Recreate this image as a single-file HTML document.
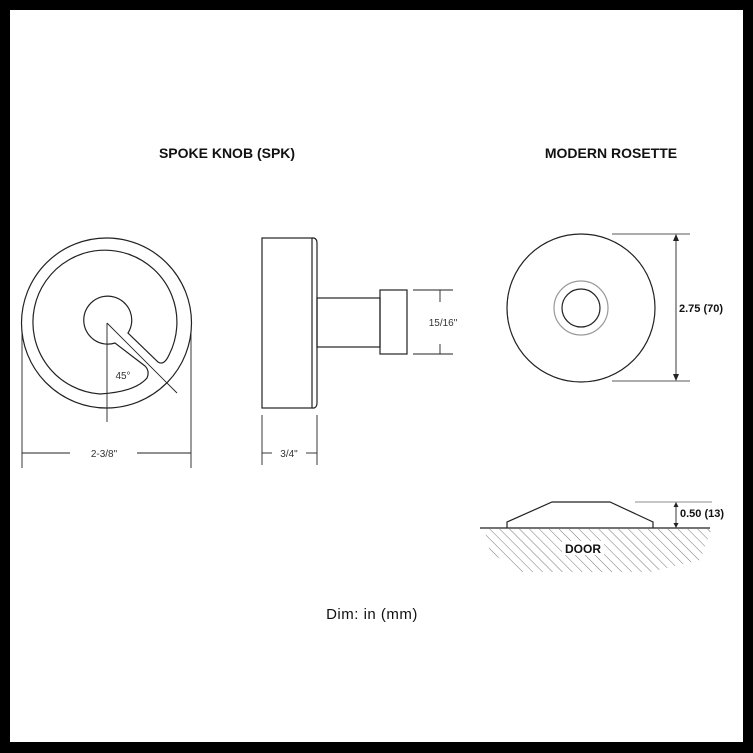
<!DOCTYPE html>
<html><head><style>
html,body{margin:0;padding:0;background:#000;}
svg{display:block;}
</style></head><body>
<svg width="753" height="753" viewBox="0 0 753 753" xmlns="http://www.w3.org/2000/svg">
<defs>
<pattern id="h" width="7" height="7" patternUnits="userSpaceOnUse" patternTransform="rotate(-45)">
<line x1="0" y1="0" x2="0" y2="7" stroke="#555" stroke-width="0.8"/>
</pattern>
<clipPath id="c"><path d="M484,528 L712,528 L700,560 L650,572 L520,572 L490,552 Z"/></clipPath>
</defs>
<rect x="0" y="0" width="753" height="753" fill="#000"/>
<rect x="10" y="10" width="733" height="732" fill="#fff"/>
<g font-family="Liberation Sans, sans-serif" fill="#111">
<text x="227" y="158" font-size="14" font-weight="bold" text-anchor="middle">SPOKE KNOB (SPK)</text>
<text x="611" y="158" font-size="14" font-weight="bold" text-anchor="middle">MODERN ROSETTE</text>
<text x="372" y="619" font-size="15" text-anchor="middle" letter-spacing="0.5">Dim: in (mm)</text>
<text x="123" y="379" font-size="10" text-anchor="middle" fill="#333">45°</text>
<text x="104" y="457" font-size="10" text-anchor="middle" fill="#333">2-3/8"</text>
<text x="289" y="457" font-size="10" text-anchor="middle" fill="#333">3/4"</text>
<text x="443" y="326" font-size="10" text-anchor="middle" fill="#333">15/16"</text>
<text x="679" y="312" font-size="11" font-weight="bold">2.75 (70)</text>
<text x="680" y="517" font-size="11" font-weight="bold">0.50 (13)</text>
</g>
<g fill="none" stroke="#222" stroke-width="1.2">
<circle cx="106.5" cy="323" r="85"/>
<path d="M115,343 A24 24 0 1 1 128,333 L158,362 Q164,366 169,355 A72 72 0 1 0 100,394 Q135,392 147,378 Q150,371 145,366 Z"/>
<line x1="107" y1="323" x2="107" y2="422" stroke-width="0.9"/>
<line x1="107" y1="323" x2="177" y2="393" stroke-width="0.9"/>
<line x1="22" y1="330" x2="22" y2="468" stroke-width="0.9"/>
<line x1="191" y1="330" x2="191" y2="468" stroke-width="0.9"/>
<line x1="22" y1="453" x2="70" y2="453" stroke-width="0.9"/>
<line x1="137" y1="453" x2="191" y2="453" stroke-width="0.9"/>
<rect x="262" y="238" width="50" height="170"/>
<path d="M312,238 L314,238 Q317,239 317,243 L317,403 Q317,407 314,408 L312,408"/>
<rect x="317" y="298" width="63" height="49"/>
<rect x="380" y="290" width="27" height="64"/>
<line x1="262" y1="415" x2="262" y2="465" stroke-width="0.9"/>
<line x1="317" y1="415" x2="317" y2="465" stroke-width="0.9"/>
<line x1="262" y1="453" x2="272" y2="453" stroke-width="0.9"/>
<line x1="306" y1="453" x2="317" y2="453" stroke-width="0.9"/>
<line x1="413" y1="290" x2="453" y2="290" stroke-width="0.9"/>
<line x1="413" y1="354" x2="453" y2="354" stroke-width="0.9"/>
<line x1="440" y1="290" x2="440" y2="302" stroke-width="0.9"/>
<line x1="440" y1="344" x2="440" y2="354" stroke-width="0.9"/>
<circle cx="581" cy="308" r="74"/>
<circle cx="581" cy="308" r="27" stroke="#999"/>
<circle cx="581" cy="308" r="19"/>
<line x1="612" y1="234" x2="690" y2="234" stroke-width="0.8"/>
<line x1="612" y1="381" x2="690" y2="381" stroke-width="0.8"/>
<line x1="676" y1="238" x2="676" y2="377" stroke-width="0.9"/>
<line x1="480" y1="528" x2="710" y2="528"/>
<path d="M507,528 L507,522 L552,502 L610,502 L653,522 L653,528"/>
<line x1="635" y1="502" x2="712" y2="502" stroke-width="0.7" stroke="#666"/>
<line x1="676" y1="506" x2="676" y2="524" stroke-width="0.9"/>
</g>
<g fill="#222">
<path d="M676,234 L673,241 L679,241 Z"/>
<path d="M676,381 L673,374 L679,374 Z"/>
<path d="M676,502 L673.5,507 L678.5,507 Z"/>
<path d="M676,528 L673.5,523 L678.5,523 Z"/>
</g>
<rect x="480" y="529" width="235" height="45" fill="url(#h)" clip-path="url(#c)"/>
<rect x="562" y="541" width="42" height="14" fill="#fff"/>
<text x="583" y="553" font-family="Liberation Sans, sans-serif" font-size="12" font-weight="bold" text-anchor="middle" fill="#111">DOOR</text>
</svg>
</body></html>
